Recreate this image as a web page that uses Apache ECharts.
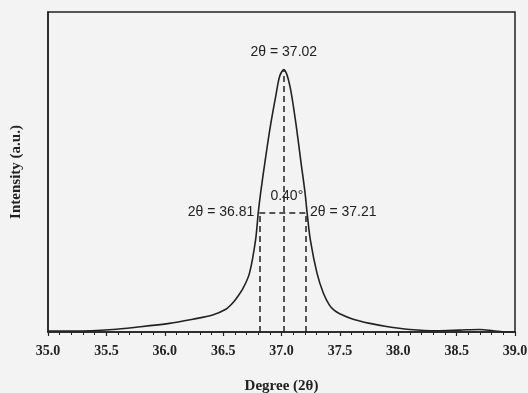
<!DOCTYPE html>
<html>
<head>
<meta charset="utf-8">
<script src="https://cdn.jsdelivr.net/npm/echarts@6/dist/echarts.min.js"></script>
<style>
  html, body { margin: 0; padding: 0; background: #f3f3f3; }
  #main { width: 528px; height: 393px; }
</style>
</head>
<body>
<div id="main"></div>
<script>
// XRD peak profile
var degree = [35.0, 35.24, 35.555, 35.755, 36.04, 36.24, 36.41, 36.527, 36.57, 36.61, 36.67, 36.726, 36.778, 36.801, 36.821, 36.861, 36.904, 36.955, 36.985, 37.02, 37.05, 37.084, 37.127, 37.164, 37.202, 37.219, 37.247, 37.304, 37.358, 37.412, 37.45, 37.498, 37.613, 37.756, 37.899, 38.099, 38.328, 38.527, 38.699, 38.814, 38.93, 39.0];
var intensity = [0.3, 0.3, 0.8, 1.5, 2.7, 4.0, 5.3, 7.2, 8.6, 10.3, 13.6, 18.4, 28.8, 37.3, 43.4, 53.8, 64.2, 74.6, 80.0, 82.0, 80.0, 74.6, 64.2, 53.8, 43.4, 37.3, 28.8, 18.4, 12.2, 8.3, 6.8, 5.7, 4.0, 2.7, 1.7, 0.8, 0.4, 0.6, 0.8, 0.4, 0.0, 0.0];
var xTicks = [35.0, 35.5, 36.0, 36.5, 37.0, 37.5, 38.0, 38.5, 39.0];

// peak marks
var peakX = 37.02, peakY = 82;
var leftX = 36.81, rightX = 37.21, halfY = 37.3;
var fwhm = '0.40°';

var ink = '#222';
var serif = '"Liberation Serif", "Times New Roman", serif';
var sans = '"Liberation Sans", Arial, sans-serif';

var points = degree.map(function (d, i) { return [d, intensity[i]]; });

var dashed = { color: ink, width: 1.5, type: [6, 4] };

var chart = echarts.init(document.getElementById('main'));
chart.setOption({
  backgroundColor: '#f3f3f3',
  animation: false,
  grid: {
    left: 48, right: 13, top: 12, bottom: 61,
    outerBoundsMode: 'none',
    containLabel: false,
    show: true, borderColor: ink, borderWidth: 1.5, backgroundColor: 'transparent'
  },
  xAxis: {
    type: 'value',
    min: xTicks[0],
    max: xTicks[xTicks.length - 1],
    interval: 0.5,
    name: 'Degree (2θ)',
    nameLocation: 'middle',
    nameGap: 47,
    nameTextStyle: { fontFamily: serif, fontWeight: 'bold', fontSize: 15, color: ink },
    axisLine: { lineStyle: { color: ink, width: 1.5 } },
    axisTick: { show: true, inside: false, length: 4, lineStyle: { color: ink, width: 1.2 } },
    minorTick: { show: true, splitNumber: 5, length: 3, lineStyle: { color: ink, width: 1 } },
    axisLabel: {
      margin: 12,
      fontFamily: serif, fontWeight: 'bold', fontSize: 14, color: ink,
      formatter: function (v) { return v.toFixed(1); }
    },
    splitLine: { show: false }
  },
  yAxis: {
    type: 'value',
    min: 0,
    max: 100,
    name: 'Intensity (a.u.)',
    nameLocation: 'middle',
    nameRotate: 90,
    nameGap: 24,
    nameTextStyle: { fontFamily: serif, fontWeight: 'bold', fontSize: 15, color: ink },
    axisLine: { show: true, lineStyle: { color: ink, width: 1.5 } },
    axisTick: { show: false },
    axisLabel: { show: false },
    splitLine: { show: false }
  },
  series: [{
    type: 'line',
    data: points,
    showSymbol: false,
    smooth: 0.3,
    lineStyle: { color: ink, width: 1.6 },
    markLine: {
      silent: true,
      symbol: 'none',
      label: { show: false },
      lineStyle: dashed,
      data: [
        [{ coord: [leftX, 0] }, { coord: [leftX, halfY] }],
        [{ coord: [peakX, 0] }, { coord: [peakX, peakY] }],
        [{ coord: [rightX, 0] }, { coord: [rightX, halfY] }],
        [{ coord: [leftX, halfY] }, { coord: [rightX, halfY] }]
      ]
    },
    markPoint: {
      silent: true,
      symbol: 'circle',
      symbolSize: 0,
      label: { fontFamily: sans, fontSize: 14, color: ink },
      data: [
        { coord: [peakX, peakY], label: { position: 'top', distance: 10, formatter: '2θ = ' + peakX.toFixed(2) } },
        { coord: [leftX, halfY], label: { position: 'left', distance: 5, formatter: '2θ = ' + leftX.toFixed(2) } },
        { coord: [rightX, halfY], label: { position: 'right', distance: 4, formatter: '2θ = ' + rightX.toFixed(2) } },
        { coord: [peakX, halfY], label: { position: 'top', distance: 9, offset: [3, 0], formatter: fwhm } }
      ]
    }
  }]
});
</script>
</body>
</html>
